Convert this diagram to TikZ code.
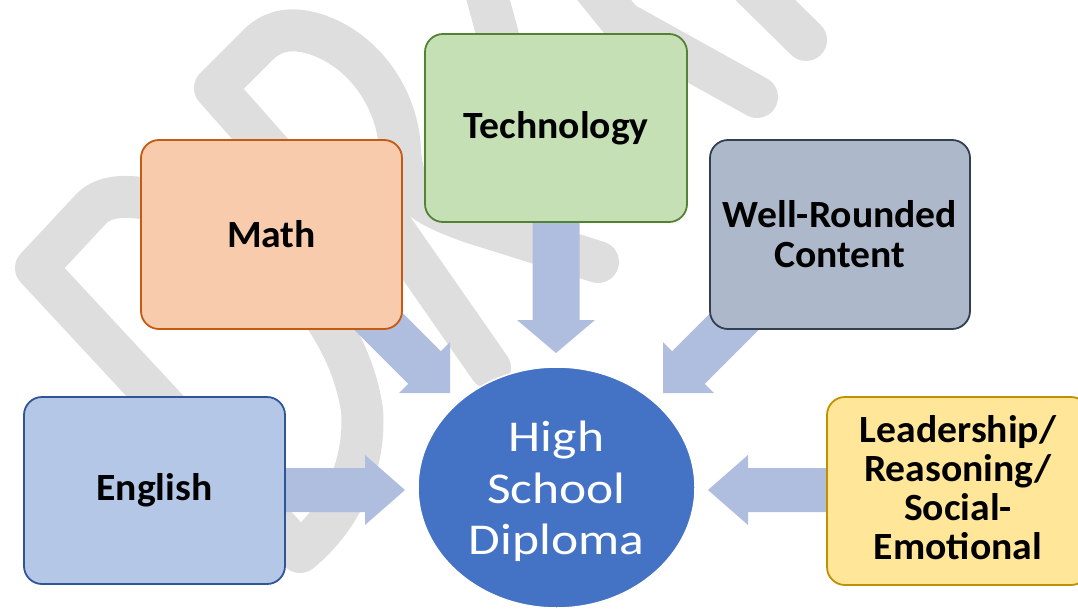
\documentclass[tikz,border=0pt]{standalone}
\usepackage{fontspec}
\setmainfont{Carlito}
\newfontfamily\boxfont[FakeStretch=1.03]{Carlito}
\newfontfamily\circfont[FakeStretch=1.17]{Carlito}
\usetikzlibrary{calc,shapes.geometric}
\definecolor{wmgray}{RGB}{222,222,222}
\definecolor{arrowblue}{RGB}{175,189,223}
\definecolor{engfill}{RGB}{180,199,231}
\definecolor{engline}{RGB}{47,85,151}
\definecolor{mathfill}{RGB}{248,203,173}
\definecolor{mathline}{RGB}{197,90,17}
\definecolor{techfill}{RGB}{197,224,180}
\definecolor{techline}{RGB}{84,130,53}
\definecolor{wrfill}{RGB}{173,185,202}
\definecolor{wrline}{RGB}{50,63,79}
\definecolor{ldfill}{RGB}{255,230,153}
\definecolor{ldline}{RGB}{191,144,0}
\definecolor{circblue}{RGB}{68,114,196}
\newcommand\blockarr[5]{%
  \coordinate (h#2) at ($(#2)!#5!(#1)$);
  \fill[arrowfill] ($(#1)!#3!90:(#2)$) -- ($(h#2)!#3!-90:(#1)$) -- ($(h#2)!#4!-90:(#1)$) -- (#2)
    -- ($(h#2)!#4!90:(#1)$) -- ($(h#2)!#3!90:(#1)$) -- ($(#1)!#3!-90:(#2)$) -- cycle;}
\begin{document}
\begin{tikzpicture}[x=1pt,y=-1pt,
  wm/.style={draw=wmgray,line width=42pt,line cap=round,line join=round},
  box/.style={rectangle,rounded corners=18pt,line width=1.8pt,align=center,inner sep=0pt,
    font=\boxfont\bfseries\fontsize{38.5}{40}\selectfont},
  arrowfill/.style={fill=arrowblue}]
\useasboundingbox (0,0) rectangle (1078,610);
% watermark
\draw[wm] (300,552) -- (36,268) -- (92,208) .. controls (110,190) and (150,195) .. (200,215)
  .. controls (290,255) and (350,330) .. (362,410) .. controls (366,460) and (345,515) .. (300,552) -- cycle;
\draw[wm] (345,235) -- (215,88) -- (258,45) .. controls (275,28) and (295,28) .. (315,34)
  .. controls (365,50) and (398,100) .. (400,150) .. controls (402,195) and (425,205) .. (470,222) -- (598,262);
\draw[wm] (366,190) -- (490,368);
\draw[wm] (480,-30) -- (510,80);
\draw[wm] (580,-30) -- (622,22) -- (757,97);
\draw[wm] (745,-20) -- (806,40);
% arrow anchor coordinates
\coordinate (sE) at (200,490); \coordinate (tE) at (405,490);
\coordinate (sL) at (900,490); \coordinate (tL) at (708,490);
\coordinate (sT) at (556,150); \coordinate (tT) at (556,353);
\coordinate (sM) at (340,283); \coordinate (tM) at (450,393);
\coordinate (sW) at (773,283); \coordinate (tW) at (663,393);
\blockarr{sE}{tE}{22pt}{35pt}{40pt}
\blockarr{sL}{tL}{22pt}{35pt}{40pt}
\blockarr{sT}{tT}{23.5pt}{39pt}{33pt}
\blockarr{sM}{tM}{23pt}{36pt}{36pt}
\blockarr{sW}{tW}{23pt}{36pt}{36pt}
% boxes
\node[box,fill=engfill,draw=engline,minimum width=261pt,minimum height=187pt] (eng) at (154.5,490.5) {English};
\node[box,fill=mathfill,draw=mathline,minimum width=261pt,minimum height=189pt] (math) at (271.5,234.5) {Math};
\node[box,fill=techfill,draw=techline,minimum width=262pt,minimum height=188pt] (tech) at (556,128) {Technology};
\node[box,fill=wrfill,draw=wrline,minimum width=260pt,minimum height=189pt] (wr) at (840,234.5) {Well-Rounded\\Content};
\node[box,fill=ldfill,draw=ldline,minimum width=262pt,minimum height=188pt] (lead) at (958,491) {};
\node[align=center,inner sep=0pt,font=\boxfont\bfseries\fontsize{38.5}{39}\selectfont] (leadtxt) at ($(lead.center)+(0,-3)$) {Leadership/\\Reasoning/\\Social-\\Emotional};
% circle
\node[ellipse,fill=circblue,draw=white,line width=1.5pt,minimum width=277pt,minimum height=241pt,inner sep=0pt] (circ) at (556.5,487.5) {};
\node[align=center,inner sep=0pt,text=white,font=\circfont\fontsize{44}{51.5}\selectfont] (circtxt) at ($(circ.center)+(0,4)$) {High\\School\\Diploma};
\end{tikzpicture}
\end{document}
